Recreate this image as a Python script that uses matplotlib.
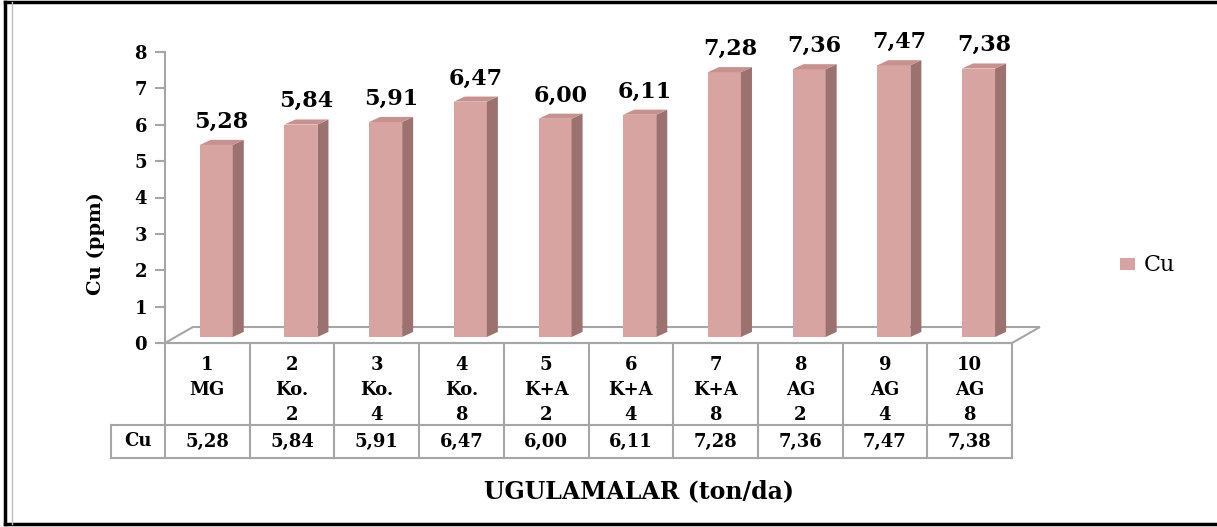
import matplotlib.pyplot as plt
from matplotlib.patches import Polygon, Rectangle
from matplotlib.lines import Line2D

plt.rcParams['font.family'] = ['DejaVu Serif']

# treatment labels (number, fertiliser, dose) and Cu values
treatments = ["1\nMG", "2\nKo.\n2", "3\nKo.\n4", "4\nKo.\n8", "5\nK+A\n2",
              "6\nK+A\n4", "7\nK+A\n8", "8\nAG\n2", "9\nAG\n4", "10\nAG\n8"]
cu = [5.28, 5.84, 5.91, 6.47, 6.00, 6.11, 7.28, 7.36, 7.47, 7.38]
yticks = [0, 1, 2, 3, 4, 5, 6, 7, 8]

FRONT = "#d8a4a1"
SIDE = "#9b7270"
TOP = "#c6918e"
GRID = "#a6a6a6"


def fmt(v):
    return f"{v:.2f}".replace(".", ",")


fig = plt.figure(figsize=(12.17, 5.27), dpi=100)

# outer frame
fig.add_artist(Line2D([5 / 1217, 5 / 1217], [0.005, 0.997], color="black", lw=2.5, transform=fig.transFigure))
fig.add_artist(Line2D([5 / 1217, 1.0], [0.997, 0.997], color="black", lw=2.5, transform=fig.transFigure))
fig.add_artist(Line2D([5 / 1217, 1.0], [0.005, 0.005], color="black", lw=2.5, transform=fig.transFigure))
fig.add_artist(Line2D([12 / 1217, 12 / 1217], [0.005, 0.997], color="#bdbdbd", lw=1, transform=fig.transFigure))

ax = fig.add_axes([165 / 1217, 1 - 343 / 527, 847 / 1217, 291 / 527])
ax.set_xlim(0, 10)
ax.set_ylim(0, 8)
for s in ["top", "right", "bottom"]:
    ax.spines[s].set_visible(False)
ax.spines["left"].set_color(GRID)
ax.spines["left"].set_linewidth(1.5)
ax.set_xticks([])
ax.set_yticks(yticks)
ax.tick_params(axis="y", length=7, width=1.5, color=GRID, pad=6)
for lab in ax.get_yticklabels():
    lab.set_fontsize(13)
    lab.set_fontweight("bold")

# 3-D floor
dxf, dyf = 0.33, 0.44
ax.add_patch(Polygon([(0, 0), (dxf, dyf), (10 + dxf, dyf), (10, 0)], closed=True,
                     facecolor="white", edgecolor=GRID, lw=1.5, clip_on=False, zorder=1))

# bars: front face, side and top
x0, w = 0.41, 0.39
dx, dy = 0.13, 0.14
base = 0.165
for i, v in enumerate(cu):
    xl = i + x0
    ax.bar(xl, v, width=w, bottom=base, align="edge", color=FRONT, edgecolor="none", zorder=3)
    top = base + v
    ax.add_patch(Polygon([(xl + w, base), (xl + w + dx, base + dy), (xl + w + dx, top + dy), (xl + w, top)],
                         closed=True, facecolor=SIDE, edgecolor="none", zorder=3, clip_on=False))
    ax.add_patch(Polygon([(xl, top), (xl + dx, top + dy), (xl + w + dx, top + dy), (xl + w, top)],
                         closed=True, facecolor=TOP, edgecolor="none", zorder=3, clip_on=False))
    ax.text(xl + (w + dx) / 2, top + dy + 0.2, fmt(v), ha="center", va="bottom",
            fontsize=16, fontweight="bold", clip_on=False)

# data table under the axis
ppu = 291 / 8
row1 = -(425 - 343) / ppu
row2 = -(458 - 343) / ppu
left_cell = -(167 - 113) / (847 / 10)
tkw = dict(color=GRID, lw=1.5, clip_on=False, zorder=2)
ax.plot([0, 10], [0, 0], **tkw)
ax.plot([left_cell, 10], [row1, row1], **tkw)
ax.plot([left_cell, 10], [row2, row2], **tkw)
ax.plot([left_cell, left_cell], [row1, row2], **tkw)
for k in range(11):
    ax.plot([k, k], [0, row2], **tkw)

for i, lab in enumerate(treatments):
    for j, part in enumerate(lab.split("\n")):
        ax.text(i + 0.5, -(365 + 25 * j - 343) / ppu, part, ha="center", va="center",
                fontsize=13, fontweight="bold", clip_on=False)
    ax.text(i + 0.5, (row1 + row2) / 2, fmt(cu[i]), ha="center", va="center",
            fontsize=13, fontweight="bold", clip_on=False)
ax.text(left_cell / 2, (row1 + row2) / 2, "Cu", ha="center", va="center",
        fontsize=13, fontweight="bold", clip_on=False)

fig.text(96 / 1217, 1 - 244 / 527, "Cu (ppm)", rotation=90, ha="center", va="center",
         fontsize=14, fontweight="bold")
fig.text(639 / 1217, 1 - 491 / 527, "UGULAMALAR (ton/da)", ha="center", va="center",
         fontsize=17, fontweight="bold")

# legend
fig.add_artist(Rectangle((1120 / 1217, 1 - 270 / 527), 15 / 1217, 12 / 527, transform=fig.transFigure,
                         facecolor=FRONT, edgecolor="none"))
fig.text(1144 / 1217, 1 - 265 / 527, "Cu", ha="left", va="center", fontsize=16)

fig.savefig("out.png", dpi=100)
